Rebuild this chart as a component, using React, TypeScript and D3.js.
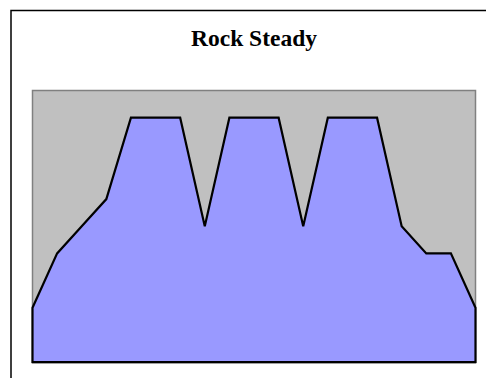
import React from "react";
import * as d3 from "d3";

const title = "Rock Steady";
const categories = d3.range(1, 20).map(String);
const values = [2, 4, 5, 6, 9, 9, 9, 5, 9, 9, 9, 5, 9, 9, 9, 5, 4, 4, 2];
const yDomain = [0, 10];

export default function App() {
  const W = 486, H = 378;
  const plot = { x0: 32.5, x1: 475.5, y0: 90.5, y1: 362 };
  const x = d3.scalePoint<string>().domain(categories).range([plot.x0, plot.x1]);
  const y = d3.scaleLinear().domain(yDomain).range([plot.y1, plot.y0]);
  const data = categories.map((c, i) => ({ c, v: values[i] }));
  const area = d3.area<{ c: string; v: number }>()
    .x(d => x(d.c) as number)
    .y0(y(0))
    .y1(d => y(d.v));
  const d = area(data) + "Z";
  return (
    <svg width={W} height={H} style={{ position: "absolute", left: 0, top: 0, background: "#fff" }}>
      <rect x={11} y={10.5} width={520} height={420} fill="#fff" stroke="#000" strokeWidth={1.5} />
      <text x={254} y={46} textAnchor="middle" fontFamily="'Liberation Serif', 'Times New Roman', serif" fontWeight="bold" fontSize={23.5} fill="#000">{title}</text>
      <rect x={plot.x0} y={plot.y0} width={plot.x1 - plot.x0} height={plot.y1 - plot.y0 + 1} fill="#C0C0C0" stroke="#808080" strokeWidth={1.5} />
      <path d={d} fill="#9999FF" stroke="#000" strokeWidth={2.2} strokeLinejoin="miter" />
    </svg>
  );
}
